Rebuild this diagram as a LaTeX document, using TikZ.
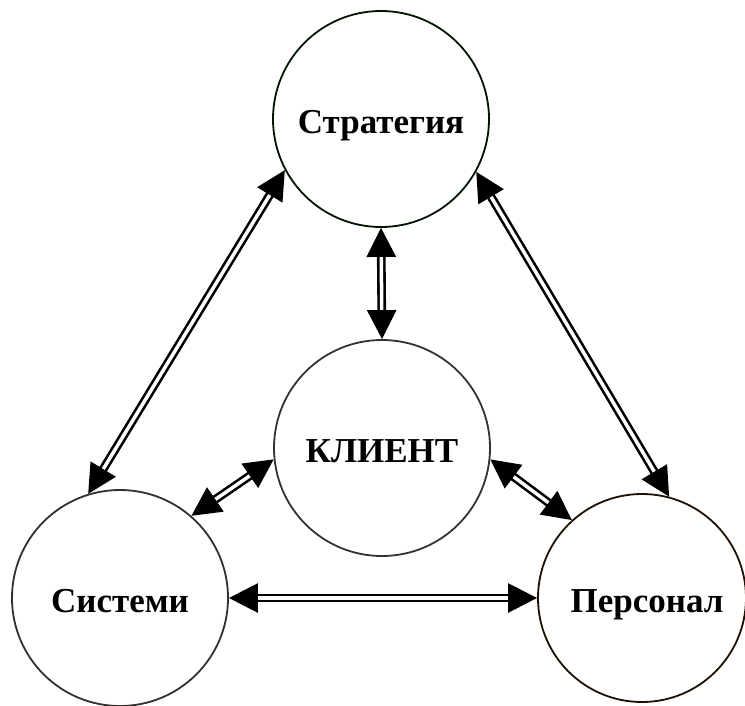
\documentclass[tikz,border=0pt]{standalone}
\usepackage{fontspec}
\setmainfont{Liberation Serif}
\usepackage{tikz}
\usetikzlibrary{arrows.meta}

\newcommand{\lowered}[1]{\raisebox{-14pt}[0pt][0pt]{#1}}

\begin{document}
\begin{tikzpicture}[x=1pt,y=-1pt,
  block/.style={circle, draw=#1, line width=1.8pt, fill=white, inner sep=0pt,
    minimum size=216pt, font=\fontsize{35}{40}\selectfont\bfseries},
  link/.style={double, double distance=3.5pt, line width=2.6pt,
    {Triangle[length=29pt,width=29pt]}-{Triangle[length=29pt,width=29pt]}}]
  \useasboundingbox (0,0) rectangle (745,705);
  \node[block=black!92!green] (strat) at (381,119) {\lowered{Стратегия}\hspace{12pt}};
  \node[block=black!90!cyan] (client) at (382,448) {\lowered{КЛИЕНТ}};
  \node[block=black!92!yellow] (sys) at (120,598) {\lowered{Системи}};
  \node[block=black!88!orange, minimum size=208pt] (pers) at (642,598) {\hspace{10pt}\lowered{Персонал}};
  \draw[link] (strat.south) -- (client.north);
  \draw[link] (strat.208) -- (sys.107);
  \draw[link] (strat.331) -- (pers.75);
  \draw[link] (client.186) -- (sys.49);
  \draw[link] (client.354) -- (pers.132);
  \draw[link] (sys.east) -- (pers.west);
\end{tikzpicture}
\end{document}
